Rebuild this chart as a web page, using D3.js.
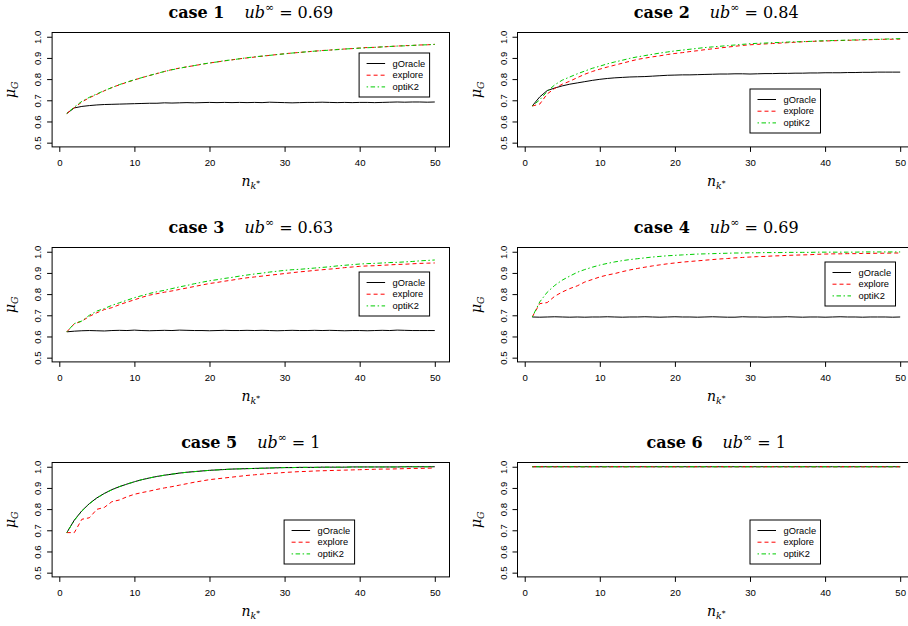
<!DOCTYPE html>
<html lang="en">
<head>
<meta charset="UTF-8">
<title>mu_G against n_k* for six cases</title>
<script src="https://cdn.jsdelivr.net/npm/d3@7/dist/d3.min.js"></script>
<style>
  body { margin: 0; background: #fff; }
  svg { display: block; }
  .tick text { font-family: "Liberation Sans", Arial, sans-serif; font-size: 9.6px; fill: #000; }
  .tick line, .domain { stroke: #000; }
  .legend text { font-family: "Liberation Sans", Arial, sans-serif; font-size: 9.3px; }
  .math { font-family: "DejaVu Serif", "Liberation Serif", serif; }
</style>
</head>
<body>
<svg id="chart" width="908" height="626"></svg>
<script>
// ---- data ----
const nk = [1,2,3,4,5,6,7,8,9,10,11,12,13,14,15,16,17,18,19,20,21,22,23,24,25,
            26,27,28,29,30,31,32,33,34,35,36,37,38,39,40,41,42,43,44,45,46,47,48,49,50];
const caseLabels = ["1", "2", "3", "4", "5", "6"];
const ubLabels = ["0.69", "0.84", "0.63", "0.69", "1", "1"];
const seriesNames = ["gOracle", "explore", "optiK2"];
const xTicks = [0, 10, 20, 30, 40, 50];
const yTicks = [0.5, 0.6, 0.7, 0.8, 0.9, 1.0];

const case1_gOracle = [0.638,0.664,0.671,0.675,0.678,0.680,0.681,0.682,0.683,0.684,0.685,0.686,0.686,0.688,0.687,0.688,0.689,0.688,0.689,0.690,
  0.689,0.690,0.689,0.690,0.689,0.690,0.689,0.691,0.690,0.689,0.688,0.689,0.690,0.690,0.691,0.690,0.689,0.690,0.689,0.690,
  0.690,0.689,0.690,0.691,0.692,0.691,0.692,0.692,0.691,0.692];
const case1_explore = [0.638,0.665,0.692,0.712,0.728,0.745,0.760,0.773,0.785,0.796,0.807,0.817,0.826,0.836,0.845,0.852,0.858,0.864,0.870,0.876,
  0.881,0.886,0.891,0.896,0.900,0.904,0.908,0.912,0.916,0.920,0.923,0.926,0.929,0.932,0.935,0.937,0.940,0.942,0.944,0.947,
  0.949,0.950,0.952,0.954,0.956,0.958,0.959,0.961,0.962,0.964];
const case1_optiK2 = [0.638,0.668,0.695,0.714,0.730,0.746,0.760,0.774,0.786,0.797,0.807,0.817,0.827,0.836,0.844,0.851,0.858,0.864,0.871,0.876,
  0.881,0.887,0.891,0.896,0.901,0.905,0.909,0.912,0.916,0.919,0.923,0.926,0.929,0.932,0.934,0.937,0.939,0.942,0.944,0.946,
  0.948,0.950,0.952,0.954,0.956,0.957,0.959,0.961,0.962,0.964];

const case2_gOracle = [0.673,0.716,0.746,0.758,0.768,0.776,0.782,0.788,0.794,0.799,0.803,0.806,0.808,0.810,0.811,0.812,0.814,0.816,0.818,0.819,
  0.820,0.820,0.821,0.822,0.823,0.824,0.824,0.825,0.825,0.824,0.825,0.826,0.826,0.827,0.827,0.828,0.828,0.829,0.829,0.830,
  0.830,0.830,0.831,0.831,0.832,0.832,0.833,0.833,0.833,0.833];
const case2_explore = [0.673,0.682,0.730,0.756,0.776,0.790,0.807,0.823,0.836,0.847,0.857,0.866,0.875,0.884,0.893,0.899,0.905,0.910,0.916,0.921,
  0.925,0.930,0.934,0.939,0.943,0.947,0.951,0.955,0.959,0.962,0.964,0.966,0.968,0.970,0.972,0.974,0.976,0.978,0.979,0.980,
  0.981,0.982,0.983,0.984,0.985,0.986,0.987,0.988,0.988,0.989];
const case2_optiK2 = [0.673,0.702,0.742,0.773,0.795,0.810,0.825,0.838,0.851,0.861,0.872,0.881,0.889,0.898,0.905,0.911,0.917,0.923,0.928,0.933,
  0.937,0.941,0.945,0.949,0.952,0.955,0.958,0.961,0.964,0.967,0.969,0.970,0.972,0.973,0.975,0.976,0.977,0.978,0.980,0.981,
  0.982,0.983,0.984,0.985,0.986,0.987,0.988,0.989,0.990,0.991];

const case3_gOracle = [0.622,0.625,0.627,0.628,0.627,0.626,0.628,0.629,0.628,0.630,0.628,0.627,0.628,0.629,0.628,0.630,0.629,0.628,0.628,0.627,
  0.628,0.629,0.628,0.628,0.629,0.628,0.629,0.628,0.627,0.628,0.629,0.628,0.628,0.629,0.628,0.629,0.628,0.627,0.628,0.628,
  0.627,0.628,0.629,0.628,0.630,0.629,0.628,0.628,0.628,0.628];
const case3_explore = [0.622,0.660,0.672,0.695,0.712,0.727,0.736,0.750,0.762,0.773,0.785,0.795,0.802,0.809,0.815,0.822,0.829,0.836,0.843,0.850,
  0.855,0.861,0.866,0.872,0.877,0.881,0.885,0.889,0.893,0.897,0.901,0.905,0.908,0.912,0.915,0.918,0.921,0.925,0.928,0.931,
  0.933,0.934,0.936,0.938,0.940,0.941,0.943,0.945,0.946,0.947];
const case3_optiK2 = [0.622,0.661,0.673,0.700,0.720,0.732,0.747,0.759,0.771,0.783,0.793,0.803,0.811,0.818,0.826,0.834,0.841,0.849,0.856,0.863,
  0.868,0.874,0.879,0.885,0.890,0.895,0.899,0.904,0.908,0.912,0.915,0.917,0.920,0.923,0.926,0.929,0.933,0.936,0.939,0.942,
  0.944,0.945,0.947,0.949,0.950,0.952,0.954,0.957,0.959,0.961];

const case4_gOracle = [0.692,0.691,0.692,0.693,0.692,0.691,0.692,0.691,0.692,0.692,0.693,0.692,0.691,0.692,0.692,0.693,0.692,0.691,0.692,0.693,
  0.692,0.692,0.691,0.692,0.693,0.692,0.691,0.691,0.693,0.692,0.692,0.691,0.692,0.692,0.693,0.692,0.691,0.692,0.692,0.691,
  0.692,0.693,0.692,0.692,0.691,0.692,0.692,0.692,0.691,0.692];
const case4_explore = [0.692,0.755,0.760,0.790,0.810,0.826,0.839,0.857,0.869,0.881,0.890,0.897,0.906,0.914,0.921,0.927,0.933,0.938,0.943,0.947,
  0.951,0.954,0.957,0.960,0.963,0.966,0.968,0.971,0.973,0.975,0.977,0.978,0.980,0.981,0.983,0.984,0.985,0.986,0.988,0.989,
  0.990,0.990,0.991,0.991,0.992,0.992,0.993,0.993,0.994,0.994];
const case4_optiK2 = [0.692,0.763,0.809,0.841,0.866,0.885,0.903,0.916,0.927,0.937,0.945,0.952,0.958,0.963,0.967,0.971,0.975,0.978,0.981,0.983,
  0.985,0.987,0.989,0.990,0.991,0.992,0.993,0.994,0.994,0.995,0.995,0.996,0.996,0.996,0.997,0.997,0.997,0.997,0.998,0.998,
  0.998,0.998,0.998,0.998,0.999,0.999,0.999,0.999,0.999,0.999];

const case5_gOracle = [0.689,0.748,0.792,0.826,0.853,0.874,0.892,0.906,0.918,0.929,0.939,0.947,0.954,0.960,0.965,0.970,0.974,0.977,0.980,0.983,
  0.985,0.987,0.989,0.990,0.991,0.992,0.993,0.994,0.995,0.996,0.996,0.997,0.997,0.997,0.998,0.998,0.998,0.998,0.999,0.999,
  0.999,0.999,0.999,0.999,0.999,1.000,1.000,1.000,1.000,1.000];
const case5_explore = [0.689,0.689,0.752,0.759,0.799,0.808,0.835,0.843,0.858,0.870,0.878,0.885,0.893,0.900,0.906,0.913,0.920,0.927,0.933,0.939,
  0.943,0.947,0.951,0.955,0.959,0.962,0.965,0.968,0.970,0.973,0.975,0.977,0.978,0.980,0.981,0.982,0.983,0.984,0.985,0.986,
  0.987,0.988,0.989,0.989,0.990,0.991,0.992,0.992,0.993,0.994];
const case5_optiK2 = [0.689,0.747,0.790,0.825,0.852,0.874,0.891,0.906,0.918,0.929,0.939,0.947,0.954,0.960,0.965,0.970,0.974,0.977,0.980,0.983,
  0.985,0.987,0.989,0.990,0.991,0.992,0.993,0.994,0.995,0.996,0.996,0.997,0.997,0.997,0.998,0.998,0.998,0.998,0.999,0.999,
  0.999,0.999,0.999,0.999,0.999,1.000,1.000,1.000,1.000,1.000];

const case6_gOracle = [1,1,1,1,1,1,1,1,1,1,1,1,1,1,1,1,1,1,1,1,1,1,1,1,1,1,1,1,1,1,1,1,1,1,1,1,1,1,1,1,1,1,1,1,1,1,1,1,1,1];
const case6_explore = [1,1,1,1,1,1,1,1,1,1,1,1,1,1,1,1,1,1,1,1,1,1,1,1,1,1,1,1,1,1,1,1,1,1,1,1,1,1,1,1,1,1,1,1,1,1,1,1,1,1];
const case6_optiK2 = [1,1,1,1,1,1,1,1,1,1,1,1,1,1,1,1,1,1,1,1,1,1,1,1,1,1,1,1,1,1,1,1,1,1,1,1,1,1,1,1,1,1,1,1,1,1,1,1,1,1];

const cases = [
  [case1_gOracle, case1_explore, case1_optiK2],
  [case2_gOracle, case2_explore, case2_optiK2],
  [case3_gOracle, case3_explore, case3_optiK2],
  [case4_gOracle, case4_explore, case4_optiK2],
  [case5_gOracle, case5_explore, case5_optiK2],
  [case6_gOracle, case6_explore, case6_optiK2]
];

// ---- layout ----
const boxW = 397.4, boxH = 114.4;
const colLeft = [52.1, 517.5];
const rowTop = [32.5, 247.5, 462.5];
// legend top-left inside each plot box (px)
const legendPos = [[307, 20.5], [232.5, 56.5], [307, 24.5], [307.5, 14.5], [232, 57.5], [232.5, 57.5]];
const colors = ["#000000", "#ff0000", "#00cd00"];
const dashes = [null, "4,3", "1.5,2.5,4.5,2.5"];

const svg = d3.select("#chart");

const x = d3.scaleLinear().domain([-0.96, 51.96]).range([0, boxW]);
const y = d3.scaleLinear().domain([0.48, 1.02]).range([boxH, 0]);

cases.forEach((series, i) => {
  const col = i % 2, row = Math.floor(i / 2);
  const g = svg.append("g").attr("transform", `translate(${colLeft[col]},${rowTop[row]})`);

  // title: "case k   ub^inf = v"
  const title = g.append("text")
    .attr("class", "math")
    .attr("x", boxW / 2)
    .attr("y", -14.5)
    .attr("text-anchor", "middle")
    .style("font-size", "16px");
  title.append("tspan").attr("font-weight", "bold").text("case " + caseLabels[i]);
  title.append("tspan").attr("dx", 20).attr("font-style", "italic").text("ub");
  title.append("tspan").attr("dy", -7).style("font-size", "11px").text("∞");
  title.append("tspan").attr("dy", 7).attr("dx", 5).text("=");
  title.append("tspan").attr("dx", 5).text(ubLabels[i]);

  // axes
  const xAxis = g.append("g")
    .attr("transform", `translate(0,${boxH})`)
    .call(d3.axisBottom(x).tickValues(xTicks).tickSize(5).tickPadding(7));
  xAxis.select(".domain").remove();

  const yAxis = g.append("g")
    .call(d3.axisLeft(y).tickValues(yTicks).tickSize(5).tickFormat(d3.format(".1f")));
  yAxis.select(".domain").remove();
  yAxis.selectAll(".tick text")
    .attr("x", null).attr("dy", "0.35em")
    .attr("text-anchor", "middle")
    .attr("transform", "translate(-14,0) rotate(-90)");

  // axis titles
  const xt = g.append("text").attr("class", "math")
    .attr("x", boxW / 2).attr("y", boxH + 39)
    .attr("text-anchor", "middle").style("font-size", "14px");
  xt.append("tspan").attr("font-style", "italic").text("n");
  xt.append("tspan").attr("font-style", "italic").attr("dy", 3).style("font-size", "9.5px").text("k");
  xt.append("tspan").attr("dy", -3).style("font-size", "7.5px").text("*");

  const yt = g.append("text").attr("class", "math")
    .attr("transform", `translate(-37,${boxH / 2}) rotate(-90)`)
    .attr("text-anchor", "middle").style("font-size", "14px");
  yt.append("tspan").attr("font-style", "italic").text("μ");
  yt.append("tspan").attr("font-style", "italic").attr("dy", 3).style("font-size", "9.5px").text("G");

  // series
  const line = d3.line().x((d, j) => x(nk[j])).y(d => y(d));
  series.forEach((vals, s) => {
    g.append("path")
      .datum(vals)
      .attr("fill", "none")
      .attr("stroke", colors[s])
      .attr("stroke-width", 1)
      .attr("stroke-dasharray", dashes[s])
      .attr("d", line);
  });

  // box
  g.append("rect")
    .attr("width", boxW).attr("height", boxH)
    .attr("fill", "none").attr("stroke", "#000").attr("stroke-width", 1);

  // legend
  const lg = g.append("g").attr("class", "legend")
    .attr("transform", `translate(${legendPos[i][0]},${legendPos[i][1]})`);
  lg.append("rect").attr("width", 70.5).attr("height", 44)
    .attr("fill", "#fff").attr("stroke", "#000").attr("stroke-width", 1);
  seriesNames.forEach((name, s) => {
    const ly = 10.5 + s * 11.7;
    lg.append("line")
      .attr("x1", 7.5).attr("x2", 26).attr("y1", ly).attr("y2", ly)
      .attr("stroke", colors[s]).attr("stroke-dasharray", dashes[s]);
    lg.append("text").attr("x", 33.5).attr("y", ly).attr("dy", "0.35em").text(name);
  });
});
</script>
</body>
</html>
